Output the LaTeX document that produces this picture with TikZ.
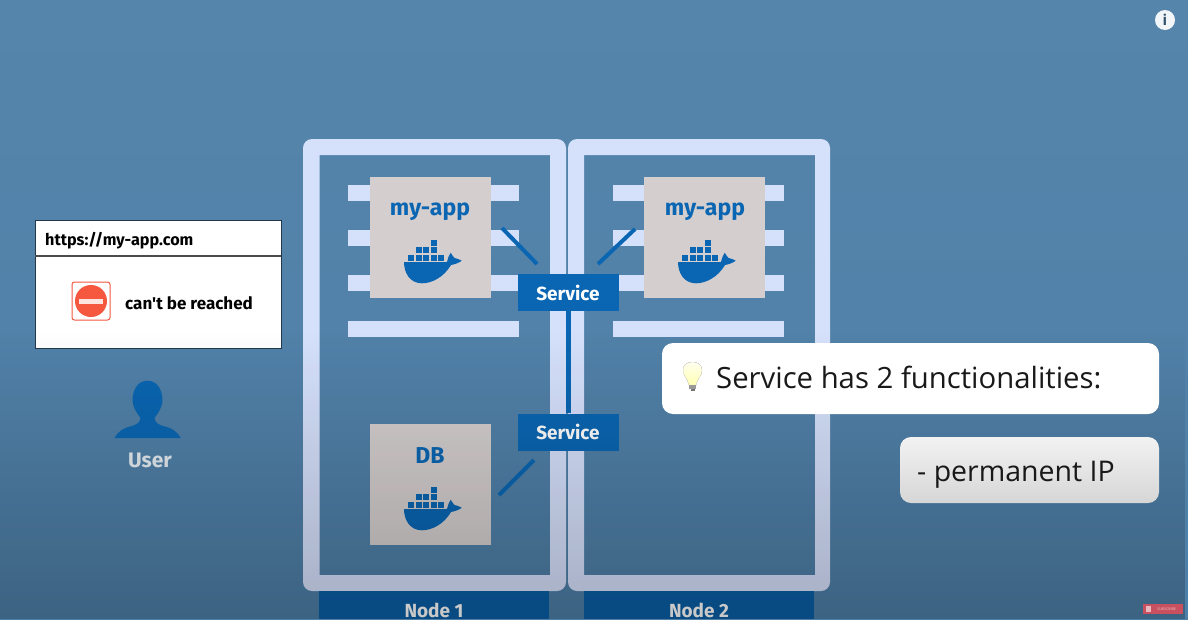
\documentclass[tikz,border=0pt]{standalone}
\usepackage{fontspec}
\setmainfont{Open Sans}
\newfontfamily\handfont{Fira Sans}
\usetikzlibrary{fadings,calc}
\definecolor{bgtop}{HTML}{5685AB}
\definecolor{bgmid}{HTML}{4E7FA7}
\definecolor{frameblue}{HTML}{D5E0FB}
\definecolor{tabblue}{HTML}{0B5FA6}
\definecolor{svcblue}{HTML}{0A66B2}
\definecolor{boxgrey}{HTML}{D4CECE}
\definecolor{stopred}{HTML}{F5573F}
\definecolor{subred}{HTML}{C8505F}
\tikzfading[name=darkdown, top color=transparent!100, bottom color=transparent!78]
\tikzset{
  x=1pt, y=-1pt,
  nodeframe/.style={draw=none, fill=frameblue, rounded corners=9pt, even odd rule},
  barline/.style={fill=frameblue, draw=none},
  appbox/.style={fill=boxgrey, draw=none, minimum width=121pt, minimum height=121pt, inner sep=0pt},
  svcbox/.style={fill=svcblue, draw=none, minimum width=101pt, minimum height=37pt, inner sep=0pt, text=white, font=\handfont\bfseries\fontsize{19}{20}\selectfont},
  tabbox/.style={fill=tabblue, draw=none, minimum width=230pt, minimum height=28pt, inner sep=0pt},
  tablabel/.style={text=white, inner sep=0pt, anchor=base, font=\handfont\bfseries\fontsize{19}{20}\selectfont},
  applabel/.style={text=svcblue, font=\handfont\bfseries\fontsize{23}{25}\selectfont, inner sep=0pt},
  link/.style={draw=svcblue, line width=4pt},
  callout/.style={rounded corners=11pt, draw=none, inner sep=0pt},
  calltext/.style={text=black!90, inner sep=0pt, anchor=base west, font=\fontsize{29.3}{34}\selectfont},
  iptextstyle/.style={text=black!90, inner sep=0pt, anchor=base west, font=\fontsize{28.5}{34}\selectfont},
  handtext/.style={text=black, inner sep=0pt, font=\handfont\bfseries\fontsize{17}{20}\selectfont},
  whale/.pic={
    \fill[svcblue] (0,22) -- (43,22) .. controls (44,18) and (45,15) .. (46.7,12.7)
      .. controls (48.5,15) and (49,17) .. (50.5,18) .. controls (53,18.5) and (56,19.5) .. (57.7,20.7)
      .. controls (55,23) and (50,24.5) .. (47,25) .. controls (40,37) and (28,43.3) .. (18,43.3)
      .. controls (6,43.3) and (0,33) .. (0,22) -- cycle;
    \foreach \cx/\cy in {26.7/0, 11.7/7.3, 19/7.3, 26.7/7.3, 4.3/14.7, 11.7/14.7, 19/14.7, 26.7/14.7, 34/14.7}
      \fill[svcblue] (\cx,\cy) rectangle ++(6,6);
  }
}
\begin{document}
\begin{tikzpicture}
\useasboundingbox (0,0) rectangle (1188,619);
\shade[top color=bgtop, bottom color=bgmid] (0,0) rectangle (1188,619);

% worker node frames
\fill[nodeframe] (303,139) rectangle (566,591) [sharp corners] (319.5,155) rectangle (550,575);
\fill[nodeframe] (568,139) rectangle (830,591) [sharp corners] (584,155) rectangle (815,575);

% tabs under the frames
\node[tabbox] (tab1) at (434,605) {};
\node[tabbox] (tab2) at (699,605) {};
\node[tablabel] (tab1label) at (434,617) {Node 1};
\node[tablabel] (tab2label) at (699,617) {Node 2};

% bars behind the pods
\foreach \by in {185,230,275,321} {
  \fill[barline] (348,\by) rectangle (519,\by+16);
  \fill[barline] (613,\by) rectangle (784,\by+16);
}

% pods
\node[appbox] (app1) at (430.5,237.5) {};
\node[appbox] (app2) at (704.5,237.5) {};
\node[appbox] (db) at (430.5,484.5) {};
\node[applabel] (app1label) at (430,212) {my-app};
\node[applabel] (app2label) at (705,212) {my-app};
\node[applabel] (dblabel) at (430,456) {DB};
\pic at (404,240) {whale};
\pic at (678,240) {whale};
\pic at (404,487) {whale};

% services
\node[svcbox] (svc1) at (568,292.5) {\raisebox{-2pt}{Service}};
\node[svcbox] (svc2) at (568,432) {\raisebox{-2pt}{Service}};
\draw[svcblue, line width=5pt] (svc1.south) -- (svc2.north);

\coordinate (l1a) at (502,228);
\coordinate (l1b) at (537,264);
\coordinate (l2a) at (635,229);
\coordinate (l2b) at (598,264);
\coordinate (l3a) at (534,460);
\coordinate (l3b) at (499,495);
\draw[link] (l1a) -- (l1b);
\draw[link] (l2a) -- (l2b);
\draw[link] (l3a) -- (l3b);

% browser window
\node[draw=black!55!bgmid, line width=1pt, fill=white, minimum width=246pt, minimum height=128pt, inner sep=0pt] (browser) at (158,284) {};
\coordinate (barl) at (35,256);
\coordinate (barr) at (281,256);
\draw[black!70, line width=1.5pt] (barl) -- (barr);
\node[handtext, anchor=base west, font=\handfont\bfseries\fontsize{16.2}{20}\selectfont] (url) at (45,245) {https://my-app.com};
\node[draw=stopred, line width=1pt, rounded corners=2.5pt, fill=white, minimum width=38pt, minimum height=38pt, inner sep=0pt] (stopbox) at (91,301) {};
\fill[stopred] (stopbox.center) circle (16);
\fill[white!85!stopred] (79.3,298.7) rectangle (102.7,304);
\node[handtext, anchor=base west] (reach) at (125,309) {can't be reached};

% user
\fill[svcblue] (114.7,438) .. controls (118,431) and (124,428) .. (130,426.5)
  .. controls (136,425) and (140,423) .. (140.5,418) .. controls (136,412) and (133,407) .. (132.5,401)
  .. controls (132.5,388) and (139,380.7) .. (147.5,380.7) .. controls (156,380.7) and (162.5,388) .. (162.5,401)
  .. controls (162,407) and (159,412) .. (154.5,418) .. controls (155,423) and (159,425) .. (165,426.5)
  .. controls (171,428) and (177,431) .. (180.7,438) -- cycle;
\node[text=white!85!bgmid, font=\handfont\bfseries\fontsize{21}{24}\selectfont, inner sep=0pt] (user) at (150,460) {User};

% info button
\node[circle, fill=white!93!bgmid, minimum size=20pt, inner sep=0pt, text=black!35!bgmid, font=\bfseries\fontsize{15}{15}\selectfont] (info) at (1165,20) {i};

% darkening toward the bottom of the frame
\fill[black, path fading=darkdown] (0,330) rectangle (1188,619);

% subscribe badge
\node[fill=subred, minimum width=40pt, minimum height=10pt, inner sep=0pt, text=white!70!subred, font=\fontsize{3.6}{4}\selectfont] (sub) at (1163,609) {\hspace{7pt}SUBSCRIBE};
\fill[white!60!subred] (1146,606) rectangle (1151,612);

% callouts
\fill[white, callout] (662,343) rectangle (1159,414);
\coordinate (svctextpos) at (716,388);
\node[calltext] (title) at (svctextpos) {Service has 2 functionalities:};
\shade[callout, top color=white!95!black, bottom color=white!84!black] (900,437) rectangle (1159,503);
\coordinate (iptextpos) at (917,481);
\node[iptextstyle] (iptext) at (iptextpos) {- permanent IP};

% light bulb
\fill[top color=yellow!6, bottom color=yellow!30, draw=yellow!30!black!18] (689,385) .. controls (688,379) and (683,376) .. (683,370.5)
  .. controls (683,365) and (687,362) .. (692.5,362) .. controls (698,362) and (702,365) .. (702,370.5)
  .. controls (702,376) and (697,379) .. (696,385) -- cycle;
\fill[black!40] (689,385) rectangle (696,389);
\fill[black!55] (690.5,389) rectangle (694.5,390.5);
\end{tikzpicture}
\end{document}
